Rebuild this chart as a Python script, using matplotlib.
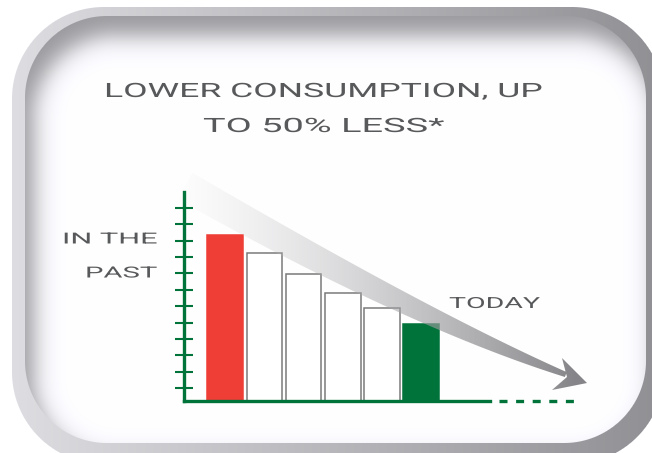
import numpy as np
import matplotlib
matplotlib.use('Agg')
import matplotlib.pyplot as plt
from matplotlib import patheffects
from matplotlib.transforms import Affine2D
from matplotlib.path import Path
from matplotlib.patches import PathPatch


# data
steps = ['past', 'step 2', 'step 3', 'step 4', 'step 5', 'today']
consumption = [100, 89, 76, 65, 56, 46]
bar_colors = ['#EF3E36', 'white', 'white', 'white', 'white', '#00733A']
edge_colors = ['#EF3E36', '#7a7a7a', '#7a7a7a', '#7a7a7a', '#7a7a7a', '#00733A']
title_lines = ['LOWER CONSUMPTION, UP', 'TO 50% LESS*']
past_label = ['IN THE', 'PAST']
today_label = 'TODAY'

GREEN = '#00733A'
TEXT = '#58595B'
W, H = 652, 453


class Stretch(patheffects.AbstractPathEffect):
    # widen glyphs around an anchor x (display px)
    def __init__(self, sx, cx):
        super().__init__()
        self.sx = sx
        self.cx = cx

    def draw_path(self, renderer, gc, tpath, affine, rgbFace=None):
        a = affine + Affine2D().translate(-self.cx, 0).scale(self.sx, 1).translate(self.cx, 0)
        renderer.draw_path(gc, tpath, a, rgbFace)


fig = plt.figure(figsize=(W / 100, H / 100), dpi=100)

# ---- card background
bg = fig.add_axes([0, 0, 1, 1], zorder=0)
yy, xx = np.mgrid[0:H, 0:W] + 0.5


def rrect(x0, y0, x1, y1, r):
    cx, cy = (x0 + x1) / 2, (y0 + y1) / 2
    qx = np.abs(xx - cx) - ((x1 - x0) / 2 - r)
    qy = np.abs(yy - cy) - ((y1 - y0) / 2 - r)
    return np.hypot(np.maximum(qx, 0), np.maximum(qy, 0)) + np.minimum(np.maximum(qx, qy), 0) - r


d_out = rrect(12, 7, 664, 464, 92)
d_in = rrect(25, 16, 646, 443, 82)
d_sh = rrect(34, 36, 655, 460, 82)
rim = 0.87 - 0.30 * (xx - 12) / 640
shade = 0.40 / (1 + np.exp(-d_sh / 7))
inner = 1 - shade
a_out = np.clip(0.5 - d_out, 0, 1)
a_in = np.clip(0.5 - d_in, 0, 1)
val = 1 - a_out + a_out * ((1 - a_in) * rim + a_in * inner)
img = np.dstack([val, val, np.minimum(val + 0.015 * (val < 0.995), 1)])
bg.imshow(img, extent=(0, W, H, 0), interpolation='nearest', aspect='auto')
bg.set_xlim(0, W)
bg.set_ylim(H, 0)
bg.axis('off')

# ---- bar chart
px_per_unit = 1.66
base_y = 400.5
left_px, right_px, top_px = 183.5, 580, 185
pitch = 39.2
x0c = 225.2

ax = fig.add_axes([left_px / W, (H - base_y) / H, (right_px - left_px) / W, (base_y - top_px) / H], zorder=1)
ax.patch.set_visible(False)
x = np.arange(len(consumption))
ax.bar(x, consumption, width=0.913, color=bar_colors, edgecolor=edge_colors, linewidth=1.1)
ax.set_xlim((left_px - x0c) / pitch, (right_px - x0c) / pitch)
ax.set_ylim(0, (base_y - top_px) / px_per_unit)

ax.spines['top'].set_visible(False)
ax.spines['right'].set_visible(False)
for s in ['left', 'bottom']:
    ax.spines[s].set_color(GREEN)
    ax.spines[s].set_linewidth(2.4)
    ax.spines[s].set_capstyle('projecting')
ax.spines['left'].set_bounds(0, (base_y - 191.7) / px_per_unit)
ax.spines['bottom'].set_bounds((left_px - x0c) / pitch, (490 - x0c) / pitch)

ax.set_xticks([])
ax.set_yticks(7.35 + 9.88 * np.arange(12))
ax.tick_params(axis='y', direction='inout', length=13, width=1.5, color=GREEN, labelleft=False)

# dotted continuation of the baseline
ax.plot([(499 - x0c) / pitch, (573.5 - x0c) / pitch], [0, 0], color=GREEN, lw=2.4,
        linestyle=(0, (8 * 0.72 / 2.4, 8.6 * 0.72 / 2.4)), dash_capstyle='butt', clip_on=False)

# ---- overlay: swoosh arrow and texts
ov = fig.add_axes([0, 0, 1, 1], zorder=2)
ov.patch.set_visible(False)

P0 = np.array([185.0, 186.0])
P1 = np.array([423.0, 322.0])
P2 = np.array([575.0, 378.0])
t = np.linspace(0, 0.97, 150)
B = ((1 - t) ** 2)[:, None] * P0 + (2 * t * (1 - t))[:, None] * P1 + (t ** 2)[:, None] * P2
dB = (2 * (1 - t))[:, None] * (P1 - P0) + (2 * t)[:, None] * (P2 - P1)
n = np.stack([-dB[:, 1], dB[:, 0]], 1)
n = n / np.hypot(n[:, 0], n[:, 1])[:, None]
hw = (30 - 26 * t ** 1.5) / 2
upper = B - n * hw[:, None]
lower = B + n * hw[:, None]
band = np.vstack([upper, lower[::-1], upper[:1]])
head = np.array([[562, 358], [587, 383], [552, 390], [567, 377], [562, 358]])
verts = np.vstack([band, head])
codes = ([Path.MOVETO] + [Path.LINETO] * (len(band) - 2) + [Path.CLOSEPOLY] +
         [Path.MOVETO] + [Path.LINETO] * (len(head) - 2) + [Path.CLOSEPOLY])
clip = PathPatch(Path(verts, codes), facecolor='none', edgecolor='none', transform=ov.transData)

gx = np.linspace(170, 600, 430)
u = np.clip((gx - 178) / (575 - 178), 0, 1)
g = 0.82 - 0.32 * u
alpha = 0.95 * u ** 0.85
grad = np.zeros((1, len(gx), 4))
grad[0, :, 0] = g
grad[0, :, 1] = g
grad[0, :, 2] = np.minimum(g + 0.015, 1)
grad[0, :, 3] = alpha
im = ov.imshow(grad, extent=(170, 600, 400, 160), aspect='auto', interpolation='bilinear')
im.set_clip_path(clip)

ov.set_xlim(0, W)
ov.set_ylim(H, 0)
ov.axis('off')

font = ['Roboto', 'DejaVu Sans']
texts = []
texts.append((ov.text(323.5, 97, title_lines[0], ha='center', va='baseline', fontsize=14.2,
                      color=TEXT, family=font), 439, 323.5))
texts.append((ov.text(324, 132, title_lines[1], ha='center', va='baseline', fontsize=14.2,
                      color=TEXT, family=font), 242, 324))
texts.append((ov.text(157, 243.5, past_label[0], ha='right', va='baseline', fontsize=11,
                      color=TEXT, family=font), 95, 157))
texts.append((ov.text(157, 277.5, past_label[1], ha='right', va='baseline', fontsize=11,
                      color=TEXT, family=font), 72, 157))
texts.append((ov.text(494.5, 308, today_label, ha='center', va='baseline', fontsize=11,
                      color=TEXT, family=font), 91, 494.5))

fig.canvas.draw()
r = fig.canvas.get_renderer()
for txt, target, cx in texts:
    wpx = txt.get_window_extent(r).width
    txt.set_path_effects([Stretch(target / wpx, cx)])

fig.savefig('out.png', dpi=100)
